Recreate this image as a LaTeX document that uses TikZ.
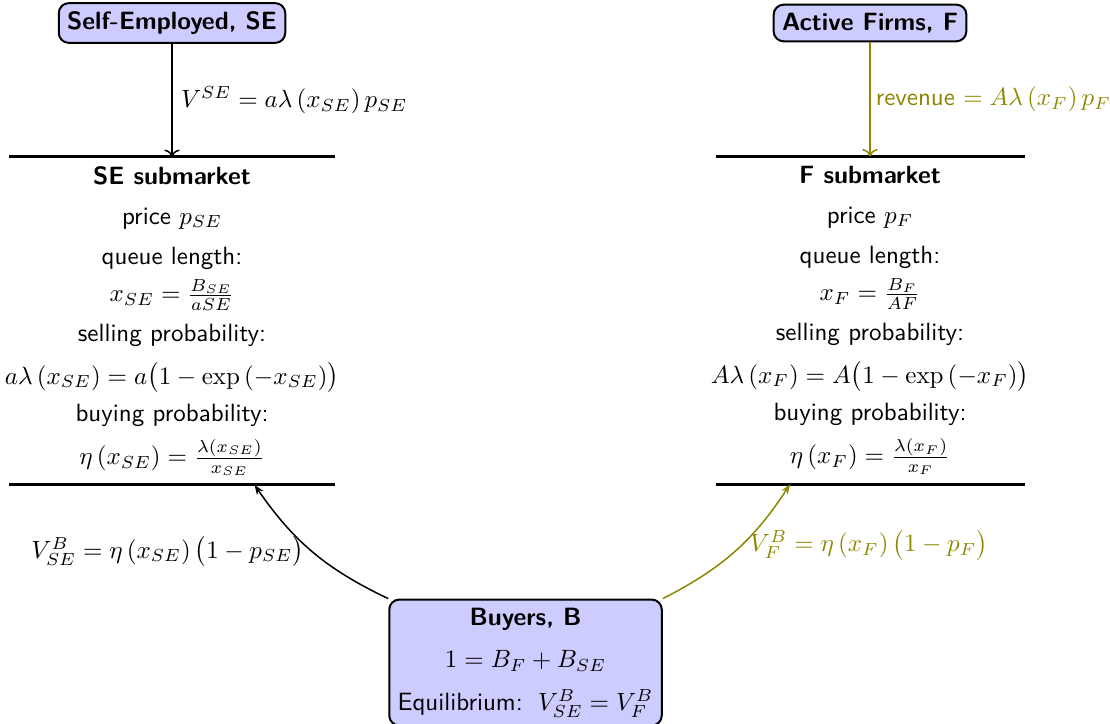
\documentclass[tikz,border=0pt]{standalone}
\usepackage{amsmath,amssymb}
\usepackage{xcolor}
\usepackage{tikz}
\usetikzlibrary{arrows.meta,positioning,calc}

\begin{document}
\begin{tikzpicture}[
  x=0.4pt, y=-0.4pt,
  font=\sffamily,
  agent/.style={rectangle, draw, thick, fill=blue!20, rounded corners=4pt,
                align=center},
  mkt/.style={align=center, minimum height=130.8pt},
  bar/.style={very thick},
  arr/.style={->, semithick},
  barr/.style={-{Stealth[length=4pt]}, semithick},
]
\useasboundingbox (0,0) rectangle (1110,724);
\node[agent] (se) at (172,23) {\bfseries Self-Employed, SE};
\node[agent] (af) at (870,23) {\bfseries Active Firms, F};
\node[mkt, below=45.2pt of se] (sem) {\textbf{SE submarket}\\[4pt]
  price $p_{SE}$\\[4pt]
  queue length:\\[3pt]
  $x_{SE}=\frac{B_{SE}}{aSE}$\\[4pt]
  selling probability:\\[5pt]
  $a\lambda\left(x_{SE}\right)=a\bigl(1-\exp\left(-x_{SE}\right)\bigr)$\\[3pt]
  buying probability:\\[4pt]
  $\eta\left(x_{SE}\right)=\frac{\lambda(x_{SE})}{x_{SE}}$};
\node[mkt, below=45.6pt of af] (fm) {\textbf{F submarket}\\[4pt]
  price $p_F$\\[4pt]
  queue length:\\[3pt]
  $x_F=\frac{B_F}{AF}$\\[4pt]
  selling probability:\\[5pt]
  $A\lambda\left(x_F\right)=A\bigl(1-\exp\left(-x_F\right)\bigr)$\\[3pt]
  buying probability:\\[4pt]
  $\eta\left(x_F\right)=\frac{\lambda(x_F)}{x_F}$};
\coordinate (mid) at ($(sem.south)!.5!(fm.south)$);
\node[agent, below=45.6pt of mid, xshift=1.8pt] (buy) {\textbf{Buyers, B}\\[5pt]
  $1=B_F+B_{SE}$\\[5pt]
  Equilibrium:\, $V^B_{SE}=V^B_F$};
% submarket borders
\draw[bar] ([xshift=-65pt]sem.north) -- ([xshift=65pt]sem.north);
\draw[bar] ([xshift=-65pt]sem.south) -- ([xshift=65pt]sem.south);
\draw[bar] ([xshift=-61.8pt]fm.north) -- ([xshift=61.8pt]fm.north);
\draw[bar] ([xshift=-61.8pt]fm.south) -- ([xshift=61.8pt]fm.south);
% flows
\draw[arr] (se) -- (sem.north) node[midway, right] {$V^{SE}=a\lambda\left(x_{SE}\right)p_{SE}$};
\draw[arr, olive] (af) -- (fm.north) node[midway, right, inner sep=2pt] {revenue $=A\lambda\left(x_F\right)p_F$};
\draw[barr] (buy.north west) to[bend left=15]
  node[pos=.5, left] {$V^B_{SE}=\eta\left(x_{SE}\right)\bigl(1-p_{SE}\bigr)$}
  ([xshift=33pt]sem.south);
\draw[barr, olive] (buy.north east) to[bend right=15]
  node[pos=.55, right, text=olive] {$V^B_F=\eta\left(x_F\right)\bigl(1-p_F\bigr)$}
  ([xshift=-32pt]fm.south);
\end{tikzpicture}
\end{document}
